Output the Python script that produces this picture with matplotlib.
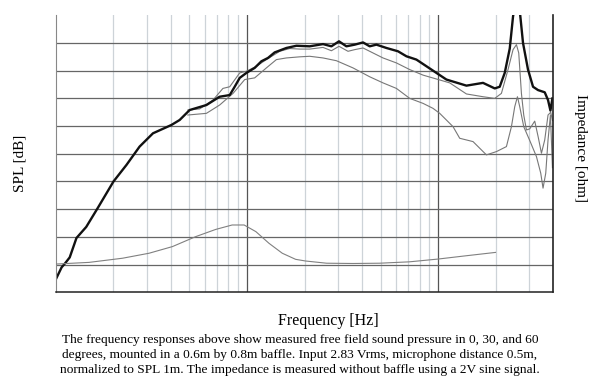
import numpy as np
import matplotlib
matplotlib.use("Agg")
import matplotlib.pyplot as plt
from matplotlib.ticker import FixedLocator, NullFormatter

plt.rcParams['font.family'] = ['Liberation Serif', 'DejaVu Serif']

# 0 graus (on-axis), frecuencia en Hz y SPL en dB
f_0 = [100, 107, 112, 118, 128, 144, 166, 200, 234, 274, 322, 402, 444, 501,
       613, 719, 812, 862, 916, 993, 1097, 1190, 1288, 1396, 1608, 1814, 2130,
       2500, 2766, 3031, 3314, 3664, 4050, 4389, 4759, 5369, 6174, 6833, 7708,
       8697, 9808, 11066, 14085, 17203, 19815, 21038, 22352, 23743, 24705,
       25823, 26940, 27861, 29587, 31433, 33393, 36196, 37666, 38772, 39720]
spl_0 = [52.4, 54.5, 55.3, 56.3, 59.8, 61.8, 65.3, 70.0, 73.0, 76.3, 78.7, 80.2,
         81.1, 82.9, 83.8, 85.3, 85.6, 87.1, 88.7, 89.6, 90.5, 91.7, 92.3, 93.3,
         94.1, 94.5, 94.4, 94.8, 94.4, 95.3, 94.4, 94.7, 95.1, 94.4, 94.7, 94.1,
         93.5, 92.6, 92.0, 90.8, 89.6, 88.4, 87.3, 87.8, 86.8, 87.1, 89.6, 94.0,
         99.8, 103.5, 100.0, 95.0, 90.2, 87.1, 86.5, 86.1, 84.7, 82.8, 85.0]

# 30 graus
f_30 = [490, 565, 664, 748, 812, 916, 993, 1120, 1263, 1484, 1673, 1888, 2130,
        2500, 2766, 3031, 3379, 3664, 4050, 4568, 5152, 6057, 7110, 8349, 9808,
        11515, 14085, 17203, 19815, 21473, 23256, 24705, 25738, 26461, 27330,
        28104, 29034, 30210, 32087, 33470, 34790, 36196, 37666, 38915, 39720]
spl_30 = [82.9, 83.1, 84.7, 86.8, 87.1, 89.6, 89.9, 90.8, 92.0, 93.5, 94.0, 93.9,
          93.9, 94.2, 93.6, 94.4, 93.5, 93.8, 94.1, 93.2, 92.3, 91.4, 90.2, 89.2,
          88.5, 87.8, 85.8, 85.3, 85.0, 85.9, 90.2, 93.8, 94.7, 93.2, 85.9,
          82.0, 79.3, 79.5, 80.9, 78.0, 75.1, 77.5, 82.0, 82.5, 81.0]

# 60 graus
f_60 = [490, 613, 719, 845, 973, 1097, 1263, 1425, 1608, 1888, 2130, 2500, 2938,
        3589, 4389, 5152, 6057, 7110, 8349, 9415, 10207, 11984, 12990, 15254,
        17925, 20230, 22810, 24231, 25215, 26049, 26780, 28104, 30210, 32753,
        34495, 35464, 36642, 37666, 38772, 39720]
spl_60 = [82.0, 82.3, 83.8, 85.9, 88.4, 88.7, 90.5, 92.0, 92.3, 92.5, 92.6, 92.3,
          91.8, 90.5, 88.9, 87.8, 86.8, 85.0, 84.1, 83.2, 82.3, 79.9, 77.8, 77.2,
          74.8, 75.4, 76.3, 79.9, 83.5, 85.3, 83.5, 79.9, 77.4, 74.5, 71.5,
          68.8, 71.5, 77.5, 82.0, 72.5]

# impedancia en ohm
f_imp = [100, 149, 223, 307, 407, 539, 686, 836, 966, 1113, 1303, 1530, 1797,
         2025, 2610, 3578, 4935, 7085, 10000, 14080, 20000]
z_imp = [5.1, 5.4, 6.15, 7.05, 8.25, 10.05, 11.35, 12.15, 12.15, 10.95, 8.85,
         7.05, 5.95, 5.65, 5.25, 5.2, 5.25, 5.5, 6.0, 6.6, 7.2]

caption = ("The frequency responses above show measured free field sound pressure in 0, 30, and 60\n"
           "degrees, mounted in a 0.6m by 0.8m baffle. Input 2.83 Vrms, microphone distance 0.5m,\n"
           "normalized to SPL 1m. The impedance is measured without baffle using a 2V sine signal.")

fig = plt.figure(figsize=(6, 3.84), dpi=100)
ax = fig.add_axes([0.0933, 0.2388, 0.8284, 0.7214])

ax.set_xscale('log')
ax.set_xlim(100, 40000)
ax.set_ylim(50, 100)

# rejilla
ax.xaxis.set_major_locator(FixedLocator([1000, 10000]))
ax.xaxis.set_minor_locator(FixedLocator([200, 300, 400, 500, 600, 700, 800, 900,
                                         2000, 3000, 4000, 5000, 6000, 7000, 8000, 9000,
                                         20000, 30000]))
ax.xaxis.set_major_formatter(NullFormatter())
ax.xaxis.set_minor_formatter(NullFormatter())
ax.set_yticks(np.arange(55, 100, 5))
ax.set_yticklabels([])
ax.tick_params(which='both', length=0)
ax.grid(True, axis='x', which='major', color='#555555', lw=0.9)
ax.grid(True, axis='x', which='minor', color='#cdd3d8', lw=0.9)
ax.grid(True, axis='y', which='major', color='#666666', lw=0.9)

ax.spines['top'].set_visible(False)
ax.spines['left'].set_color('#888888')
ax.spines['right'].set_color('#222222')
ax.spines['right'].set_linewidth(1.2)
ax.spines['bottom'].set_color('#222222')
ax.spines['bottom'].set_linewidth(1.1)

ax.plot(f_60, spl_60, color='#777777', lw=0.8)
ax.plot(f_30, spl_30, color='#777777', lw=0.8)
ax.plot(f_0, spl_0, color='#111111', lw=1.7)

ax2 = ax.twinx()
ax2.set_ylim(0, 50)
ax2.set_yticks([])
for s in ax2.spines.values():
    s.set_visible(False)
ax2.plot(f_imp, z_imp, color='#808080', lw=0.8)

fig.text(0.034, 0.575, 'SPL [dB]', rotation=90, ha='center', va='center', fontsize=11)
fig.text(0.967, 0.615, 'Impedance [ohm]', rotation=-90, ha='center', va='center', fontsize=11)
fig.text(0.547, 0.165, 'Frequency [Hz]', ha='center', va='center', fontsize=11.5)
fig.text(0.5, 0.075, caption, ha='center', va='center', fontsize=9.6, linespacing=1.32)

fig.savefig('out.png', dpi=100)
